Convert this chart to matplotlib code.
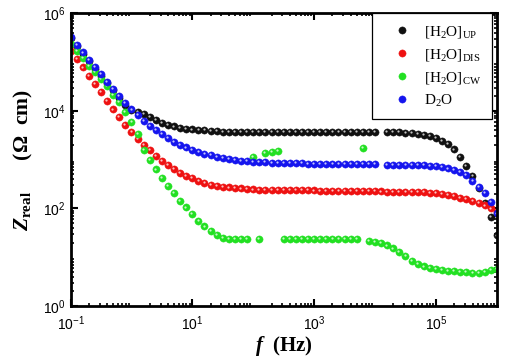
import numpy as np
import matplotlib
matplotlib.use("Agg")
import matplotlib.pyplot as plt
import matplotlib.transforms as mtransforms

nan = np.nan

# frequency sweep (Hz), 10 points per decade
freq = [1.00e-1, 1.26e-1, 1.58e-1, 2.00e-1, 2.51e-1, 3.16e-1, 3.98e-1, 5.01e-1, 6.31e-1, 7.94e-1,
        1.00e0, 1.26e0, 1.58e0, 2.00e0, 2.51e0, 3.16e0, 3.98e0, 5.01e0, 6.31e0, 7.94e0,
        1.00e1, 1.26e1, 1.58e1, 2.00e1, 2.51e1, 3.16e1, 3.98e1, 5.01e1, 6.31e1, 7.94e1,
        1.00e2, 1.26e2, 1.58e2, 2.00e2, 2.51e2, 3.16e2, 3.98e2, 5.01e2, 6.31e2, 7.94e2,
        1.00e3, 1.26e3, 1.58e3, 2.00e3, 2.51e3, 3.16e3, 3.98e3, 5.01e3, 6.31e3, 7.94e3,
        1.00e4, 1.26e4, 1.58e4, 2.00e4, 2.51e4, 3.16e4, 3.98e4, 5.01e4, 6.31e4, 7.94e4,
        1.00e5, 1.26e5, 1.58e5, 2.00e5, 2.51e5, 3.16e5, 3.98e5, 5.01e5, 6.31e5, 7.94e5,
        1.00e6]

# Z_real (Ohm cm)
z_up = [3.08e5, 2.13e5, 1.47e5, 1.04e5, 7.38e4, 5.23e4, 3.70e4, 2.62e4, 1.86e4, 1.35e4,
        1.05e4, 9500, 8710, 7590, 6610, 5750, 5250, 4790, 4470, 4270,
        4170, 4070, 3980, 3890, 3800, 3720, 3720, 3720, 3720, 3720,
        3720, 3720, 3720, 3720, 3720, 3720, 3720, 3720, 3720, 3720,
        3720, 3720, 3720, 3720, 3720, 3720, 3720, 3720, 3720, 3720,
        3720, nan, 3720, 3670, 3630, 3550, 3470, 3390, 3240, 3020,
        2750, 2450, 2090, 1620, 1120, 741, 457, 263, 132, 66,
        28]

z_dis = [1.70e5, 1.15e5, 7.76e4, 5.25e4, 3.63e4, 2.40e4, 1.58e4, 1.07e4, 7410, 5250,
         3720, 2690, 2000, 1550, 1200, 955, 776, 646, 537, 468,
         417, 372, 331, 302, 288, 275, 269, 263, 257, 251,
         245, 243, 242, 241, 240, 239, 238, 237, 236, 235,
         234, 233, 232, 231, 230, 229, 228, 227, 226, 225,
         224, 223, 222, 221, 220, 219, 218, 215, 214, 209,
         204, 195, 186, 178, 166, 155, 141, 129, 115, 100,
         83]

z_cw = [2.34e5, 1.66e5, 1.20e5, 8.51e4, 6.17e4, 4.47e4, 3.24e4, 2.14e4, 1.51e4, 9550,
        5890, 3310, 1580, 977, 631, 427, 295, 209, 145, 105,
        75.9, 56.2, 42.7, 33.9, 28.2, 25.1, 24.0, 23.4, 23.4, 23.4,
        1148, 23.4, 1349, 1413, 1514, 24.0, 24.0, 24.0, 24.0, 24.0,
        24.0, 24.0, 24.0, 24.0, 24.0, 24.0, 24.0, 24.0, 1738, 21.9,
        20.9, 19.5, 17.4, 15.1, 12.9, 10.5, 8.51, 7.24, 6.46, 6.03,
        5.75, 5.50, 5.25, 5.13, 5.01, 4.90, 4.79, 4.79, 5.01, 5.37,
        5.75]

z_d2o = [3.31e5, 2.29e5, 1.58e5, 1.12e5, 7.94e4, 5.62e4, 3.98e4, 2.82e4, 2.00e4, 1.45e4,
         1.07e4, 8320, 6310, 5010, 3980, 3310, 2750, 2340, 2040, 1780,
         1580, 1450, 1320, 1230, 1150, 1100, 1050, 1000, 955, 933,
         912, 891, 891, 871, 871, 851, 851, 851, 851, 832,
         832, 813, 813, 813, 813, 813, 813, 813, 813, 813,
         813, nan, 794, 794, 794, 794, 794, 794, 776, 759,
         741, 708, 661, 603, 550, 479, 372, 275, 204, 135,
         79]

series = [
    (z_up, "#101010", r"[H$_{\mathdefault{2}}$O]$_{\mathdefault{UP}}$"),
    (z_dis, "#ee1111", r"[H$_{\mathdefault{2}}$O]$_{\mathdefault{DIS}}$"),
    (z_cw, "#22e022", r"[H$_{\mathdefault{2}}$O]$_{\mathdefault{CW}}$"),
    (z_d2o, "#1515ee", r"D$_{\mathdefault{2}}$O"),
]

plt.rcParams["font.family"] = "Liberation Sans"
plt.rcParams["mathtext.fontset"] = "custom"
plt.rcParams["mathtext.rm"] = "Liberation Serif:bold"
plt.rcParams["mathtext.it"] = "Liberation Serif:italic:bold"
plt.rcParams["mathtext.bf"] = "Liberation Serif:bold"

fig = plt.figure(figsize=(5.08, 3.60), dpi=100)
ax = fig.add_axes([0.139, 0.15, 0.839, 0.813])

hl = mtransforms.offset_copy(ax.transData, fig=fig, x=-0.9, y=0.9, units="dots")
for z, col, lab in series:
    ax.plot(freq, z, "o", color=col, ms=5.2, mec=col, mew=0.3, label=lab)
    ax.plot(freq, z, "o", color="white", ms=1.6, mew=0, alpha=0.75, transform=hl)

ax.set_xscale("log")
ax.set_yscale("log")
ax.set_xlim(1e-1, 1e6)
ax.set_ylim(1e0, 1e6)
ax.set_xticks([1e-1, 1e1, 1e3, 1e5])
ax.set_yticks([1e0, 1e2, 1e4, 1e6])
ax.tick_params(which="both", direction="in", top=True, right=True, labelsize=10)
ax.tick_params(axis="x", pad=6)
ax.tick_params(which="major", length=5, width=1.5)
ax.tick_params(which="minor", length=2.5, width=1.2)
for s in ax.spines.values():
    s.set_linewidth(2)

ax.set_xlabel(r"$f$  (Hz)", fontsize=15, fontweight="bold", family="Liberation Serif", labelpad=1)
ax.set_ylabel(r"$Z_{\mathrm{real}}$      (Ω  cm)", fontsize=15.5, fontweight="bold",
              family="Liberation Serif", labelpad=6)

leg = ax.legend(loc="upper right", bbox_to_anchor=(0.988, 1.0), borderaxespad=0, frameon=True,
                fancybox=False, edgecolor="black", framealpha=1, handletextpad=0.2,
                labelspacing=0.45, borderpad=0.7, handlelength=2.5,
                prop={"family": "Liberation Serif", "size": 11})
leg.get_frame().set_linewidth(0.9)

fig.savefig("out.png", dpi=100)
